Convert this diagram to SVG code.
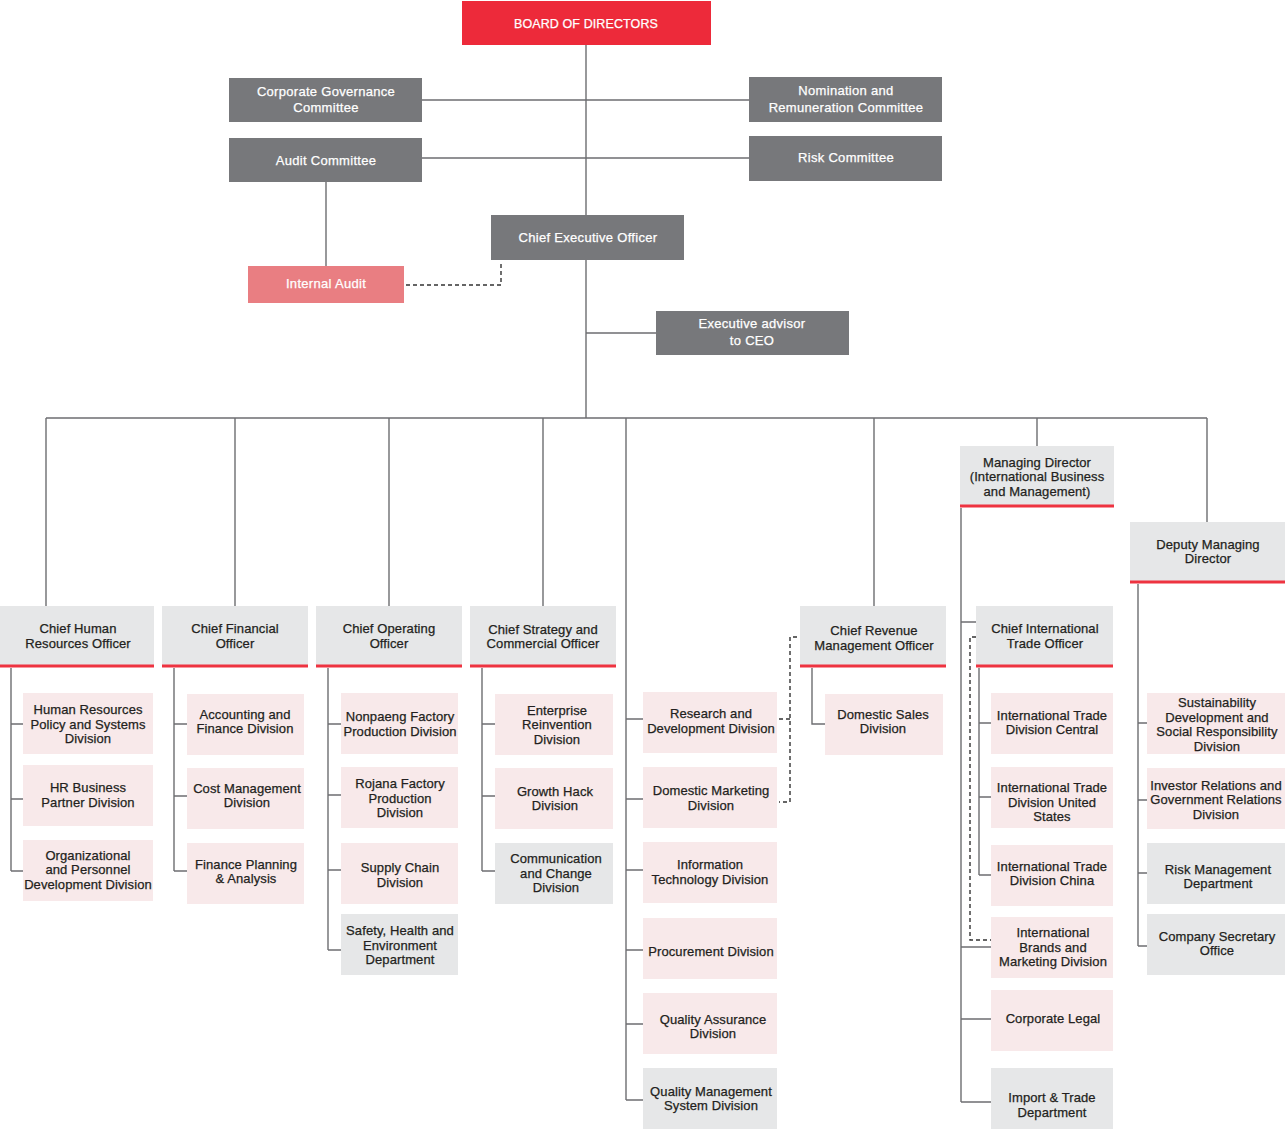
<svg xmlns="http://www.w3.org/2000/svg" width="1288" height="1131" viewBox="0 0 1288 1131">
<style>
text{font-family:"Liberation Sans",Arial,sans-serif;font-size:13px;text-anchor:middle}
.w{fill:#ffffff;stroke:#ffffff;stroke-width:0.25;letter-spacing:0.3px}
.d{fill:#231f20;stroke:#231f20;stroke-width:0.25;letter-spacing:0.1px}
.b{font-size:12.5px;letter-spacing:0.1px}
.red{fill:#ed2a3a}
.gray{fill:#77787b}
.ia{fill:#e97e82}
.hd{fill:#e6e7e8}
.pk{fill:#f8e9ea}
.lg{fill:#e6e7e8}
.ul{stroke:#ee3340;stroke-width:3;fill:none}
.ln{stroke:#6d6e71;stroke-width:1.4;fill:none}
.ds{stroke:#333333;stroke-width:1.4;fill:none;stroke-dasharray:4 3}
</style>
<rect width="1288" height="1131" fill="#ffffff"/>
<g id="connectors">
<path class="ln" d="M586 45V418M422 100H749M422 158H749M326 182V266M586 333H656M46 418H1207M46 418V606M235 418V606M389 418V606M543 418V606M626 418V1100M874 418V606M1037 418V447M1207 418V522"/>
<path class="ds" d="M406 285H501V261"/>
<path class="ln" d="M11 668V871M11 724H23M11 799H23M11 871H23"/>
<path class="ln" d="M174 668V871M174 724H187M174 796H187M174 871H187"/>
<path class="ln" d="M328 668V950M328 724H341M328 795H341M328 870H341M328 950H341"/>
<path class="ln" d="M482 668V871M482 724H495M482 796H495M482 871H495"/>
<path class="ln" d="M626 719H643M626 799H643M626 870H643M626 950H643M626 1024H643M626 1100H643"/>
<path class="ds" d="M797 637H790V802H779M779 719H790"/>
<path class="ln" d="M812 668V724H825"/>
<path class="ln" d="M961 508V1102M961 622H976M961 947H991M961 1019H991M961 1102H991"/>
<path class="ln" d="M979 668V875M979 723H991M979 797H991M979 875H991"/>
<path class="ds" d="M976 637H970V940H991"/>
<path class="ln" d="M1138 584V946M1138 723H1147M1138 800H1147M1138 873H1147M1138 946H1147"/>
</g>
<g id="board"><rect class="red" x="462" y="1" width="249" height="44"/><text class="w b" x="586" y="28">BOARD OF DIRECTORS</text></g>
<g id="cgc"><rect class="gray" x="229" y="78" width="193" height="44"/><text class="w" x="326" y="96">Corporate Governance</text><text class="w" x="326" y="112">Committee</text></g>
<g id="nrc"><rect class="gray" x="749" y="77" width="193" height="45"/><text class="w" x="846" y="95">Nomination and</text><text class="w" x="846" y="112">Remuneration Committee</text></g>
<g id="audit"><rect class="gray" x="229" y="138" width="193" height="44"/><text class="w" x="326" y="165">Audit Committee</text></g>
<g id="risk"><rect class="gray" x="749" y="136" width="193" height="45"/><text class="w" x="846" y="162">Risk Committee</text></g>
<g id="ceo"><rect class="gray" x="491" y="215" width="193" height="45"/><text class="w" x="588" y="242">Chief Executive Officer</text></g>
<g id="internal-audit"><rect class="ia" x="248" y="266" width="156" height="37"/><text class="w" x="326" y="288">Internal Audit</text></g>
<g id="advisor"><rect class="gray" x="656" y="311" width="193" height="44"/><text class="w" x="752" y="328">Executive advisor</text><text class="w" x="752" y="345">to CEO</text></g>

<g id="chro"><rect class="hd" x="0" y="606" width="154" height="59"/><line class="ul" x1="0" y1="666" x2="154" y2="666"/><text class="d" x="78" y="633">Chief Human</text><text class="d" x="78" y="648">Resources Officer</text></g>
<g id="hrpsd"><rect class="pk" x="23" y="693" width="130" height="61"/><text class="d" x="88" y="714">Human Resources</text><text class="d" x="88" y="729">Policy and Systems</text><text class="d" x="88" y="743">Division</text></g>
<g id="hrbp"><rect class="pk" x="23" y="765" width="130" height="61"/><text class="d" x="88" y="792">HR Business</text><text class="d" x="88" y="807">Partner Division</text></g>
<g id="opd"><rect class="pk" x="23" y="840" width="130" height="61"/><text class="d" x="88" y="860">Organizational</text><text class="d" x="88" y="874">and Personnel</text><text class="d" x="88" y="889">Development Division</text></g>

<g id="cfo"><rect class="hd" x="162" y="606" width="146" height="59"/><line class="ul" x1="162" y1="666" x2="308" y2="666"/><text class="d" x="235" y="633">Chief Financial</text><text class="d" x="235" y="648">Officer</text></g>
<g id="afd"><rect class="pk" x="187" y="694" width="117" height="61"/><text class="d" x="245" y="719">Accounting and</text><text class="d" x="245" y="733">Finance Division</text></g>
<g id="cmd"><rect class="pk" x="187" y="768" width="117" height="61"/><text class="d" x="247" y="793">Cost Management</text><text class="d" x="247" y="807">Division</text></g>
<g id="fpa"><rect class="pk" x="187" y="843" width="117" height="61"/><text class="d" x="246" y="869">Finance Planning</text><text class="d" x="246" y="883">&amp; Analysis</text></g>

<g id="coo"><rect class="hd" x="316" y="606" width="146" height="59"/><line class="ul" x1="316" y1="666" x2="462" y2="666"/><text class="d" x="389" y="633">Chief Operating</text><text class="d" x="389" y="648">Officer</text></g>
<g id="nonpaeng"><rect class="pk" x="341" y="693" width="117" height="61"/><text class="d" x="400" y="721">Nonpaeng Factory</text><text class="d" x="400" y="736">Production Division</text></g>
<g id="rojana"><rect class="pk" x="341" y="767" width="117" height="61"/><text class="d" x="400" y="788">Rojana Factory</text><text class="d" x="400" y="803">Production</text><text class="d" x="400" y="817">Division</text></g>
<g id="supply"><rect class="pk" x="341" y="843" width="117" height="61"/><text class="d" x="400" y="872">Supply Chain</text><text class="d" x="400" y="887">Division</text></g>
<g id="she"><rect class="lg" x="341" y="914" width="117" height="61"/><text class="d" x="400" y="935">Safety, Health and</text><text class="d" x="400" y="950">Environment</text><text class="d" x="400" y="964">Department</text></g>

<g id="csco"><rect class="hd" x="470" y="606" width="146" height="59"/><line class="ul" x1="470" y1="666" x2="616" y2="666"/><text class="d" x="543" y="634">Chief Strategy and</text><text class="d" x="543" y="648">Commercial Officer</text></g>
<g id="erd"><rect class="pk" x="495" y="694" width="118" height="61"/><text class="d" x="557" y="715">Enterprise</text><text class="d" x="557" y="729">Reinvention</text><text class="d" x="557" y="744">Division</text></g>
<g id="ghd"><rect class="pk" x="495" y="768" width="118" height="61"/><text class="d" x="555" y="796">Growth Hack</text><text class="d" x="555" y="810">Division</text></g>
<g id="ccd"><rect class="lg" x="495" y="843" width="118" height="61"/><text class="d" x="556" y="863">Communication</text><text class="d" x="556" y="878">and Change</text><text class="d" x="556" y="892">Division</text></g>

<g id="rnd"><rect class="pk" x="643" y="692" width="134" height="61"/><text class="d" x="711" y="718">Research and</text><text class="d" x="711" y="733">Development Division</text></g>
<g id="dmd"><rect class="pk" x="643" y="767" width="134" height="61"/><text class="d" x="711" y="795">Domestic Marketing</text><text class="d" x="711" y="810">Division</text></g>
<g id="itd"><rect class="pk" x="643" y="842" width="134" height="61"/><text class="d" x="710" y="869">Information</text><text class="d" x="710" y="884">Technology Division</text></g>
<g id="proc"><rect class="pk" x="643" y="918" width="134" height="61"/><text class="d" x="711" y="956">Procurement Division</text></g>
<g id="qa"><rect class="pk" x="643" y="993" width="134" height="61"/><text class="d" x="713" y="1024">Quality Assurance</text><text class="d" x="713" y="1038">Division</text></g>
<g id="qms"><rect class="lg" x="643" y="1068" width="134" height="61"/><text class="d" x="711" y="1096">Quality Management</text><text class="d" x="711" y="1110">System Division</text></g>

<g id="crmo"><rect class="hd" x="800" y="606" width="146" height="59"/><line class="ul" x1="800" y1="666" x2="946" y2="666"/><text class="d" x="874" y="635">Chief Revenue</text><text class="d" x="874" y="650">Management Officer</text></g>
<g id="dsd"><rect class="pk" x="825" y="694" width="118" height="61"/><text class="d" x="883" y="719">Domestic Sales</text><text class="d" x="883" y="733">Division</text></g>

<g id="md"><rect class="hd" x="960" y="446" width="154" height="59"/><line class="ul" x1="960" y1="506" x2="1114" y2="506"/><text class="d" x="1037" y="467">Managing Director</text><text class="d" x="1037" y="481">(International Business</text><text class="d" x="1037" y="496">and Management)</text></g>
<g id="cito"><rect class="hd" x="976" y="606" width="137" height="59"/><line class="ul" x1="976" y1="666" x2="1113" y2="666"/><text class="d" x="1045" y="633">Chief International</text><text class="d" x="1045" y="648">Trade Officer</text></g>
<g id="itdc"><rect class="pk" x="991" y="693" width="122" height="61"/><text class="d" x="1052" y="720">International Trade</text><text class="d" x="1052" y="734">Division Central</text></g>
<g id="itdus"><rect class="pk" x="991" y="767" width="122" height="61"/><text class="d" x="1052" y="792">International Trade</text><text class="d" x="1052" y="807">Division United</text><text class="d" x="1052" y="821">States</text></g>
<g id="itdcn"><rect class="pk" x="991" y="845" width="122" height="61"/><text class="d" x="1052" y="871">International Trade</text><text class="d" x="1052" y="885">Division China</text></g>
<g id="ibmd"><rect class="pk" x="991" y="917" width="122" height="61"/><text class="d" x="1053" y="937">International</text><text class="d" x="1053" y="952">Brands and</text><text class="d" x="1053" y="966">Marketing Division</text></g>
<g id="legal"><rect class="pk" x="991" y="990" width="122" height="61"/><text class="d" x="1053" y="1023">Corporate Legal</text></g>
<g id="itrade"><rect class="lg" x="991" y="1068" width="122" height="61"/><text class="d" x="1052" y="1102">Import &amp; Trade</text><text class="d" x="1052" y="1117">Department</text></g>

<g id="dmd2"><rect class="hd" x="1130" y="522" width="155" height="59"/><line class="ul" x1="1130" y1="582" x2="1285" y2="582"/><text class="d" x="1208" y="549">Deputy Managing</text><text class="d" x="1208" y="563">Director</text></g>
<g id="sdsr"><rect class="pk" x="1147" y="693" width="138" height="61"/><text class="d" x="1217" y="707">Sustainability</text><text class="d" x="1217" y="722">Development and</text><text class="d" x="1217" y="736">Social Responsibility</text><text class="d" x="1217" y="751">Division</text></g>
<g id="irgr"><rect class="pk" x="1147" y="768" width="138" height="61"/><text class="d" x="1216" y="790">Investor Relations and</text><text class="d" x="1216" y="804">Government Relations</text><text class="d" x="1216" y="819">Division</text></g>
<g id="rmd"><rect class="lg" x="1147" y="843" width="138" height="61"/><text class="d" x="1218" y="874">Risk Management</text><text class="d" x="1218" y="888">Department</text></g>
<g id="cso"><rect class="lg" x="1147" y="914" width="138" height="61"/><text class="d" x="1217" y="941">Company Secretary</text><text class="d" x="1217" y="955">Office</text></g>
</svg>
